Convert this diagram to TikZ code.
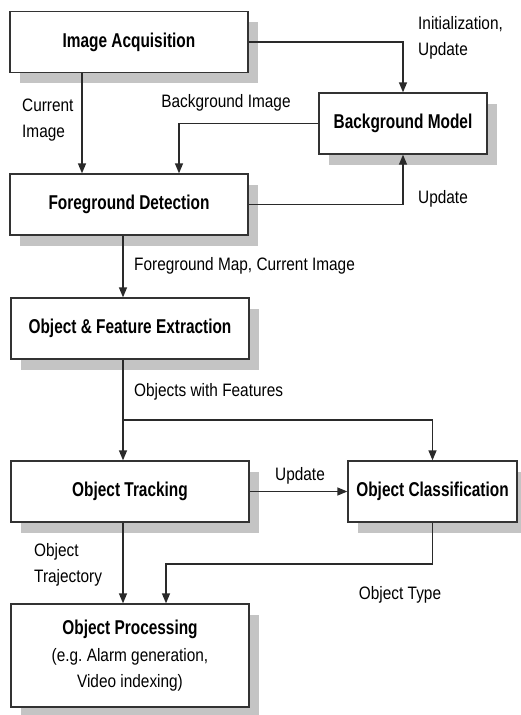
\documentclass[tikz,border=0pt]{standalone}
\usepackage{fontspec}
\setmainfont{Liberation Sans}
\newfontfamily\lblfont{Liberation Sans}[FakeStretch=0.855]
\newfontfamily\ttlfont{Liberation Sans}[FakeStretch=0.77]
\usetikzlibrary{arrows.meta,shadows}
\definecolor{boxline}{HTML}{333333}
\definecolor{shadowgray}{HTML}{C4C4C4}
\definecolor{wireline}{HTML}{2A2A2A}

\begin{document}
\begin{tikzpicture}[x=1pt,y=-1pt,
  box/.style={draw=boxline, fill=white, line width=1.3pt, inner sep=0pt,
    minimum width=238pt, minimum height=61pt, align=center,
    font=\ttlfont\bfseries\fontsize{20}{26}\selectfont,
    drop shadow={shadow xshift=9.5pt, shadow yshift=-10.5pt, fill=shadowgray, opacity=1}},
  lbl/.style={inner sep=0pt, align=left, font=\lblfont\fontsize{18}{26}\selectfont},
  arr/.style={draw=wireline, line width=1.3pt, -{Triangle[width=8pt,length=10pt]}}]

\useasboundingbox (0,0) rectangle (520,715);

% process boxes
\node[box] (ia) at (129,42) {Image Acquisition};
\node[box, minimum width=168pt] (bm) at (403,123.5) {Background Model};
\node[box] (fd) at (129,204.5) {Foreground Detection};
\node[box] (ofe) at (130,328.5) {Object \& Feature Extraction};
\node[box] (ot) at (130,491.5) {Object Tracking};
\node[box, minimum width=169pt] (oc) at (432.5,491.5) {Object Classification};
\node[box, minimum height=103pt] (op) at (130,655.5)
  {Object Processing\\[1pt]{\lblfont\mdseries\fontsize{18}{25}\selectfont (e.g.\ Alarm generation,}\\{\lblfont\mdseries\fontsize{18}{25}\selectfont Video indexing)}};

% routing points
\coordinate (xcur) at (82,0);
\coordinate (xbg) at (179,0);
\coordinate (xmain) at (123,0);
\coordinate (split) at (123,420);
\coordinate (bend) at (166,564);

% connectors
\draw[arr] (ia.south -| xcur) -- (fd.north -| xcur);
\draw[arr] (ia.east) -| (bm.north);
\draw[arr] (bm.west) -| (fd.north -| xbg);
\draw[arr] (fd.east) -| (bm.south);
\draw[arr] (fd.south -| xmain) -- (ofe.north -| xmain);
\draw[arr] (ofe.south -| xmain) -- (ot.north -| xmain);
\draw[arr] (split) -| (oc.north);
\draw[arr] (ot.east) -- (oc.west);
\draw[arr] (ot.south -| xmain) -- (op.north -| xmain);
\draw[arr] (oc.south) |- (bend) -- (op.north -| bend);

% connector labels
\node[lbl, anchor=west] (l1) at (418,38) {Initialization,\\Update};
\node[lbl, anchor=west] (l2) at (22,120.5) {Current\\Image};
\node[lbl] (l3) at (226,103) {Background Image};
\node[lbl, anchor=west] (l4) at (418,199) {Update};
\node[lbl, anchor=west] (l5) at (134,266) {Foreground Map, Current Image};
\node[lbl, anchor=west] (l6) at (134,392) {Objects with Features};
\node[lbl] (l7) at (300,476) {Update};
\node[lbl, anchor=west] (l8) at (34,565) {Object\\Trajectory};
\node[lbl] (l9) at (400,595) {Object Type};
\end{tikzpicture}
\end{document}
